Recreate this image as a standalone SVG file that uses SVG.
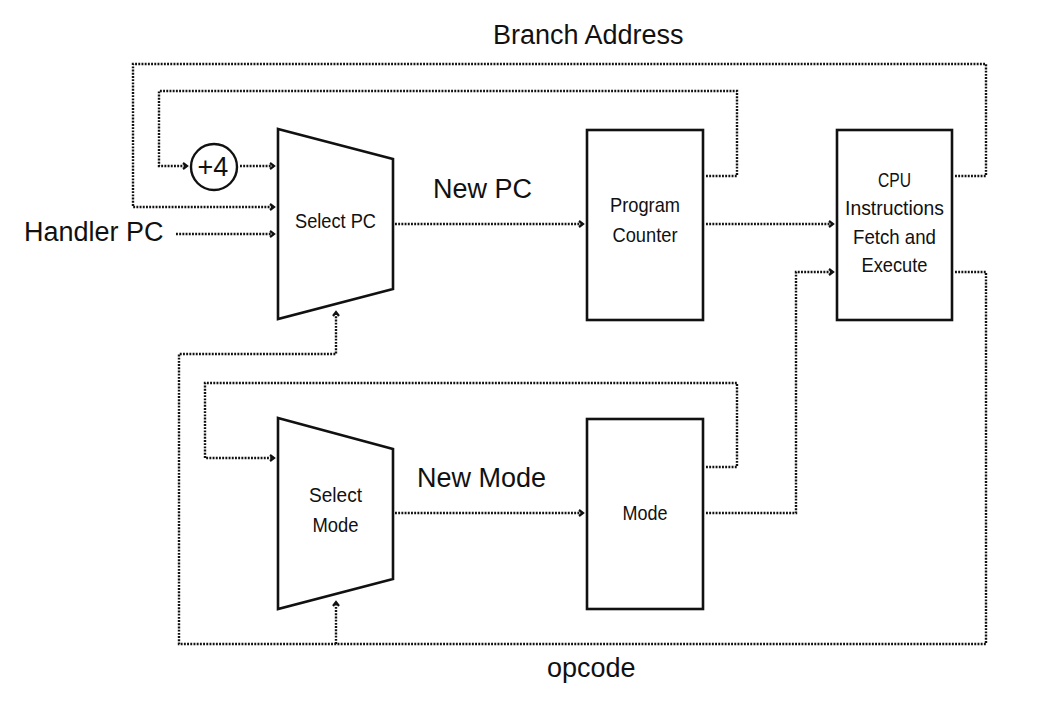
<svg xmlns="http://www.w3.org/2000/svg" width="1053" height="707" viewBox="0 0 1053 707">
<style>
.node{fill:#fff;stroke:#111;stroke-width:2.6;stroke-linejoin:miter}
.lbl{font-family:"Liberation Sans",Arial,sans-serif;font-size:27px;fill:#111}
.nt{font-family:"Liberation Sans",Arial,sans-serif;font-size:21px;fill:#111;text-anchor:middle}
.con{fill:none;stroke:#111;stroke-width:2.4;stroke-dasharray:1.9 1.3}
.arr{marker-end:url(#ah)}
</style>
<defs>
<marker id="ah" markerUnits="userSpaceOnUse" markerWidth="8" markerHeight="10" refX="5" refY="4" orient="auto">
<path d="M1,1 L5,4 L1,7" fill="none" stroke="#111" stroke-width="2.2"/>
</marker>
</defs>
<rect width="1053" height="707" fill="#fff"/>
<g id="connectors">
<path class="con arr" d="M955,176 H986 V64 H133 V207 H274"/>
<path class="con arr" d="M706,176 H737 V91 H159 V166 H187"/>
<path class="con arr" d="M240,166 H274"/>
<path class="con arr" d="M176,234 H274"/>
<path class="con arr" d="M395,224 H583"/>
<path class="con arr" d="M706,224 H833"/>
<path class="con arr" d="M706,513 H796 V272 H833"/>
<path class="con arr" d="M955,272 H986 V644 H179 V354 H336 V312"/>
<path class="con arr" d="M336,644 V602"/>
<path class="con arr" d="M706,467 H737 V383 H205 V458 H274"/>
<path class="con arr" d="M395,513 H583"/>
</g>
<g id="plus4">
<circle cx="214" cy="167" r="23" fill="#fff" stroke="#111" stroke-width="2.4"/>
<text class="lbl" x="213" y="176" text-anchor="middle">+4</text>
</g>
<g id="select-pc">
<polygon class="node" points="278,129 393,159 393,289 278,319"/>
<text class="nt" x="335.5" y="228" textLength="81" lengthAdjust="spacingAndGlyphs">Select PC</text>
</g>
<g id="program-counter">
<rect class="node" x="587" y="130" width="116" height="190"/>
<text class="nt" x="645" y="212" textLength="70" lengthAdjust="spacingAndGlyphs">Program</text>
<text class="nt" x="645" y="242" textLength="65" lengthAdjust="spacingAndGlyphs">Counter</text>
</g>
<g id="cpu">
<rect class="node" x="837" y="130" width="115" height="190"/>
<text class="nt" x="894.5" y="187" textLength="33" lengthAdjust="spacingAndGlyphs">CPU</text>
<text class="nt" x="894.5" y="215" textLength="99" lengthAdjust="spacingAndGlyphs">Instructions</text>
<text class="nt" x="894.5" y="243.5" textLength="83" lengthAdjust="spacingAndGlyphs">Fetch and</text>
<text class="nt" x="894.5" y="272" textLength="66" lengthAdjust="spacingAndGlyphs">Execute</text>
</g>
<g id="select-mode">
<polygon class="node" points="278,418 393,449 393,579 278,609"/>
<text class="nt" x="335.5" y="502" textLength="53" lengthAdjust="spacingAndGlyphs">Select</text>
<text class="nt" x="335.5" y="532" textLength="46" lengthAdjust="spacingAndGlyphs">Mode</text>
</g>
<g id="mode">
<rect class="node" x="587" y="419" width="116" height="190"/>
<text class="nt" x="645" y="520" textLength="45" lengthAdjust="spacingAndGlyphs">Mode</text>
</g>
<g id="labels">
<text class="lbl" x="493" y="44">Branch Address</text>
<text class="lbl" x="24" y="241">Handler PC</text>
<text class="lbl" x="433" y="198">New PC</text>
<text class="lbl" x="417" y="487">New Mode</text>
<text class="lbl" x="547" y="677">opcode</text>
</g>
</svg>
